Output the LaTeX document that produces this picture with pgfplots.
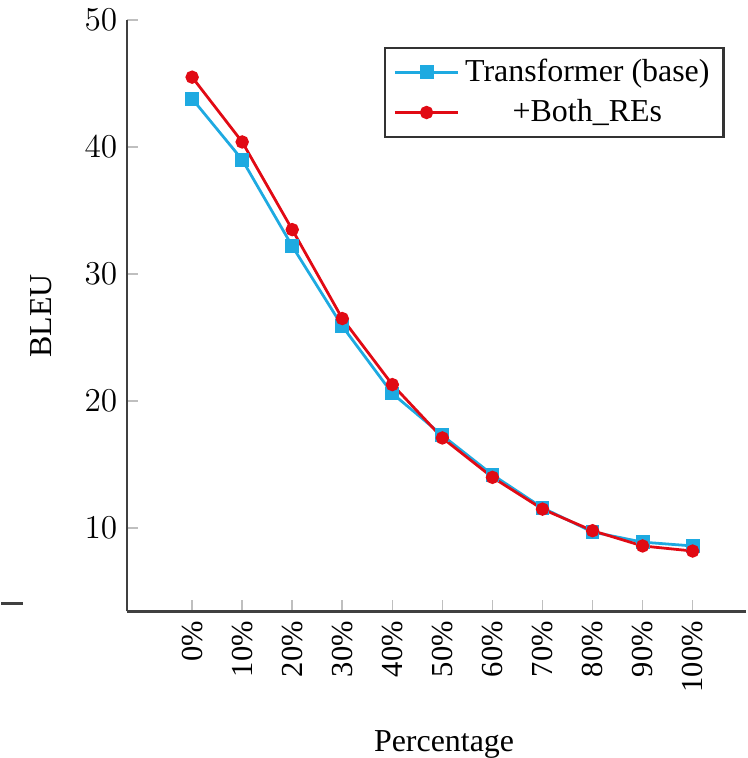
\documentclass[border=0pt]{standalone}
\usepackage{pgfplots}
\pgfplotsset{compat=1.18}
\usepackage{fontspec}
\setmainfont{Liberation Serif}
\definecolor{tblue}{RGB}{30,170,225}
\definecolor{tred}{RGB}{225,10,20}
\begin{document}
\begin{tikzpicture}
\begin{axis}[
  scale only axis,
  width=223pt, height=213pt,
  axis x line*=bottom, axis y line*=left,
  axis line style={line width=1pt, black!75},
  xmin=-1.3, xmax=11.07,
  ymin=3.45, ymax=50,
  xtick={0,1,...,10},
  xticklabels={0\%,10\%,20\%,30\%,40\%,50\%,60\%,70\%,80\%,90\%,100\%},
  ytick={10,20,30,40,50},
  tick align=inside,
  tick style={black!25, line width=0.6pt},
  major tick length=4pt,
  x tick label style={rotate=90, anchor=east, font=\fontsize{11}{13}\selectfont},
  y tick label style={font=\fontsize{12}{14}\selectfont},
  xlabel={Percentage},
  ylabel={BLEU},
  label style={font=\fontsize{11.5}{14}\selectfont},
  xlabel style={at={(rel axis cs:0.512,-0.2)}, anchor=north, inner sep=0pt},
  ylabel style={at={(rel axis cs:-0.139,0.5)}, anchor=center},
  clip=false,
  legend style={at={(0.965,0.955)}, anchor=north east, draw=black!80, line width=0.8pt,
    font=\fontsize{11.5}{14}\selectfont, inner xsep=3pt, inner ysep=2pt, row sep=1pt},
  legend cell align=center,
  legend image code/.code={\draw[#1] (0cm,0cm) -- (0.4cm,0cm) plot coordinates {(0.4cm,0cm)} -- (0.8cm,0cm);},
]
\addplot[color=tblue, line width=1pt, mark=square*, mark size=2pt, mark options={solid}] coordinates {
 (0,43.8) (1,39.0) (2,32.2) (3,25.9) (4,20.6) (5,17.3) (6,14.2) (7,11.6) (8,9.7) (9,8.9) (10,8.6)};
\addlegendentry{Transformer (base)}
\addplot[color=tred, line width=1pt, mark=*, mark size=1.9pt] coordinates {
 (0,45.5) (1,40.4) (2,33.5) (3,26.5) (4,21.3) (5,17.1) (6,14.0) (7,11.5) (8,9.8) (9,8.6) (10,8.2)};
\addlegendentry{+Both\_REs}
\draw[black!75, line width=1pt] (rel axis cs:-0.203,0.013) -- (rel axis cs:-0.168,0.013);
\end{axis}
\end{tikzpicture}
\end{document}
